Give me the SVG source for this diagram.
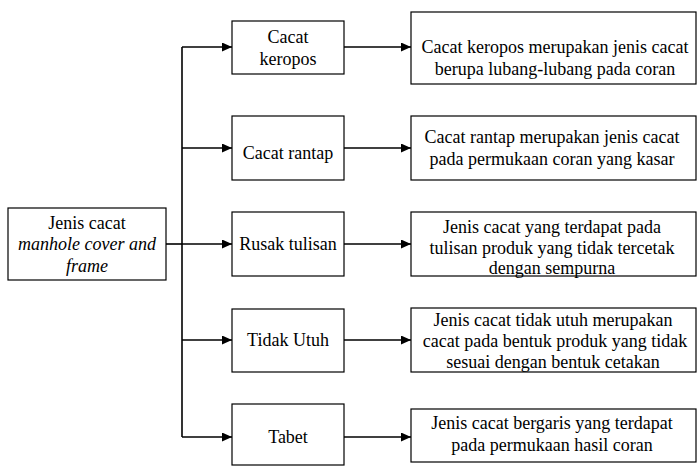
<svg xmlns="http://www.w3.org/2000/svg" width="697" height="466" viewBox="0 0 697 466">
<style>
.box{fill:#fff;stroke:#000;stroke-width:1.2}
.t{font-family:"Liberation Serif","Times New Roman",serif;font-size:18px;fill:#000;text-anchor:middle}
.i{font-style:italic}
.c{fill:none;stroke:#000;stroke-width:1.6}
</style>
<defs>
<marker id="ah" markerUnits="userSpaceOnUse" markerWidth="11" markerHeight="10" refX="10" refY="4.5" orient="auto">
<path d="M0,0 L10,4.5 L0,9 Z" fill="#000"/>
</marker>
</defs>
<rect width="697" height="466" fill="#fff"/>
<g id="connectors">
<path class="c" d="M166,244 H182"/>
<path class="c" d="M182,47 V437"/>
<path class="c" d="M182,47 H232" marker-end="url(#ah)"/>
<path class="c" d="M182,148 H232" marker-end="url(#ah)"/>
<path class="c" d="M182,244 H232" marker-end="url(#ah)"/>
<path class="c" d="M182,340 H232" marker-end="url(#ah)"/>
<path class="c" d="M182,437 H232" marker-end="url(#ah)"/>
<path class="c" d="M344,47 H411" marker-end="url(#ah)"/>
<path class="c" d="M344,148 H411" marker-end="url(#ah)"/>
<path class="c" d="M344,244 H411" marker-end="url(#ah)"/>
<path class="c" d="M344,340 H411" marker-end="url(#ah)"/>
<path class="c" d="M344,437 H411" marker-end="url(#ah)"/>
</g>
<g id="root">
<rect class="box" x="8" y="208" width="158" height="72"/>
<text class="t" x="87" y="229">Jenis cacat</text>
<text class="t i" x="87" y="250">manhole cover and</text>
<text class="t i" x="87" y="272">frame</text>
</g>
<g id="keropos">
<rect class="box" x="232" y="21" width="112" height="53"/>
<text class="t" x="288" y="43">Cacat</text>
<text class="t" x="288" y="65">keropos</text>
</g>
<g id="rantap">
<rect class="box" x="232" y="116" width="112" height="64"/>
<text class="t" x="288" y="159">Cacat rantap</text>
</g>
<g id="rusak">
<rect class="box" x="232" y="212" width="112" height="64"/>
<text class="t" x="288" y="250">Rusak tulisan</text>
</g>
<g id="tidakutuh">
<rect class="box" x="232" y="309" width="112" height="63"/>
<text class="t" x="288" y="346">Tidak Utuh</text>
</g>
<g id="tabet">
<rect class="box" x="232" y="404" width="112" height="61"/>
<text class="t" x="288" y="443">Tabet</text>
</g>
<g id="desc-keropos">
<rect class="box" x="411" y="12" width="285" height="72"/>
<text class="t" x="555" y="53">Cacat keropos merupakan jenis cacat</text>
<text class="t" x="555" y="75">berupa lubang-lubang pada coran</text>
</g>
<g id="desc-rantap">
<rect class="box" x="411" y="116" width="285" height="64"/>
<text class="t" x="552" y="143">Cacat rantap merupakan jenis cacat</text>
<text class="t" x="552" y="165">pada permukaan coran yang kasar</text>
</g>
<g id="desc-rusak">
<rect class="box" x="411" y="212" width="285" height="64"/>
<text class="t" x="552" y="233">Jenis cacat yang terdapat pada</text>
<text class="t" x="552" y="254">tulisan produk yang tidak tercetak</text>
<text class="t" x="552" y="274">dengan sempurna</text>
</g>
<g id="desc-tidakutuh">
<rect class="box" x="411" y="308" width="285" height="64"/>
<text class="t" x="553" y="326">Jenis cacat tidak utuh merupakan</text>
<text class="t" x="555" y="347">cacat pada bentuk produk yang tidak</text>
<text class="t" x="553" y="368">sesuai dengan bentuk cetakan</text>
</g>
<g id="desc-tabet">
<rect class="box" x="411" y="409" width="285" height="53"/>
<text class="t" x="552" y="429">Jenis cacat bergaris yang terdapat</text>
<text class="t" x="552" y="451">pada permukaan hasil coran</text>
</g>
</svg>
